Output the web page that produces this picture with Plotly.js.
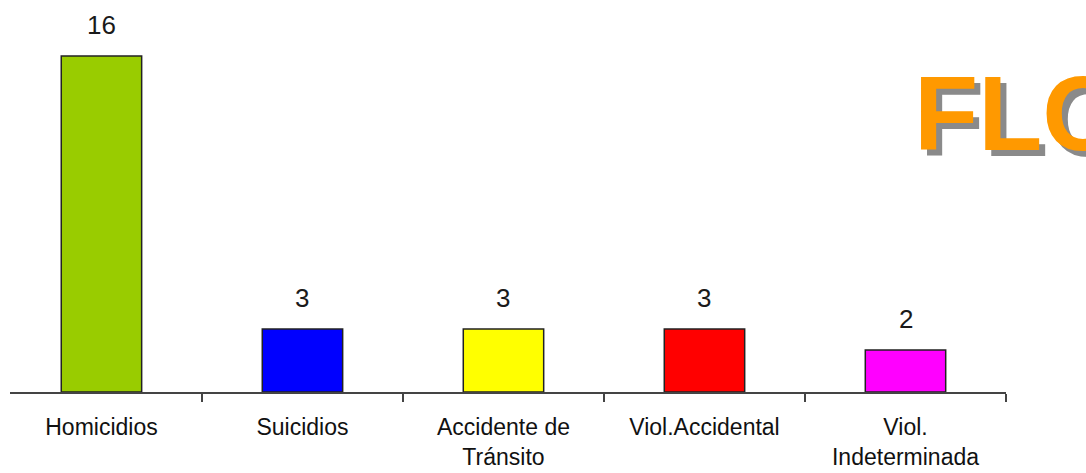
<!DOCTYPE html>
<html>
<head>
<meta charset="utf-8">
<script src="https://cdn.plot.ly/plotly-3.0.1.min.js"></script>
<style>html,body{margin:0;padding:0;background:#fff;overflow:hidden}#chart{width:1086px;height:473px}</style>
</head>
<body>
<div id="chart"></div>
<script>
var categories = ["Homicidios", "Suicidios", "Accidente de<br>Tránsito", "Viol.Accidental", "Viol.<br>Indeterminada"];
var values = [16, 3, 3, 3, 2];
var barColors = ["#99CC00", "#0000FF", "#FFFF00", "#FF0000", "#FF00FF"];
var watermark = "FLO";

var trace = {
  type: "bar",
  x: categories,
  y: values,
  marker: {color: barColors, line: {color: "#222", width: 1.5}},
  hoverinfo: "none"
};

var annotations = categories.map(function (c, i) {
  return {
    x: c, y: values[i], xref: "x", yref: "y",
    text: String(values[i]), showarrow: false,
    yanchor: "bottom", yshift: 14,
    font: {family: "Liberation Sans, Arial, sans-serif", size: 26, color: "#1a1a1a"}
  };
});
annotations.push({
  xref: "paper", yref: "paper", x: 0.9116, y: 0.721, xanchor: "left", yanchor: "middle",
  text: "<b>" + watermark + "</b>", showarrow: false,
  font: {family: "Liberation Sans, Arial, sans-serif", size: 105, color: "#8a8a8a"}
});
annotations.push({
  xref: "paper", yref: "paper", x: 0.9056, y: 0.737, xanchor: "left", yanchor: "middle",
  text: "<b>" + watermark + "</b>", showarrow: false,
  font: {family: "Liberation Sans, Arial, sans-serif", size: 105, color: "#FF9900"}
});

var layout = {
  width: 1086, height: 473,
  margin: {l: 10, r: 80, t: 14, b: 81},
  paper_bgcolor: "#fff", plot_bgcolor: "#fff",
  bargap: 0.6,
  showlegend: false,
  xaxis: {
    type: "category",
    range: [-0.455, 4.5],
    showline: true, linecolor: "#444", linewidth: 2,
    ticks: "outside", tickson: "boundaries", ticklen: 8, tickwidth: 2, tickcolor: "#444",
    showgrid: false, zeroline: false,
    ticklabelstandoff: 13,
    tickfont: {family: "Liberation Sans, Arial, sans-serif", size: 23, color: "#111"}
  },
  yaxis: {
    range: [0, 18], visible: false, showgrid: false, zeroline: false
  },
  annotations: annotations
};

Plotly.newPlot("chart", [trace], layout, {displayModeBar: false, staticPlot: true});
</script>
</body>
</html>
